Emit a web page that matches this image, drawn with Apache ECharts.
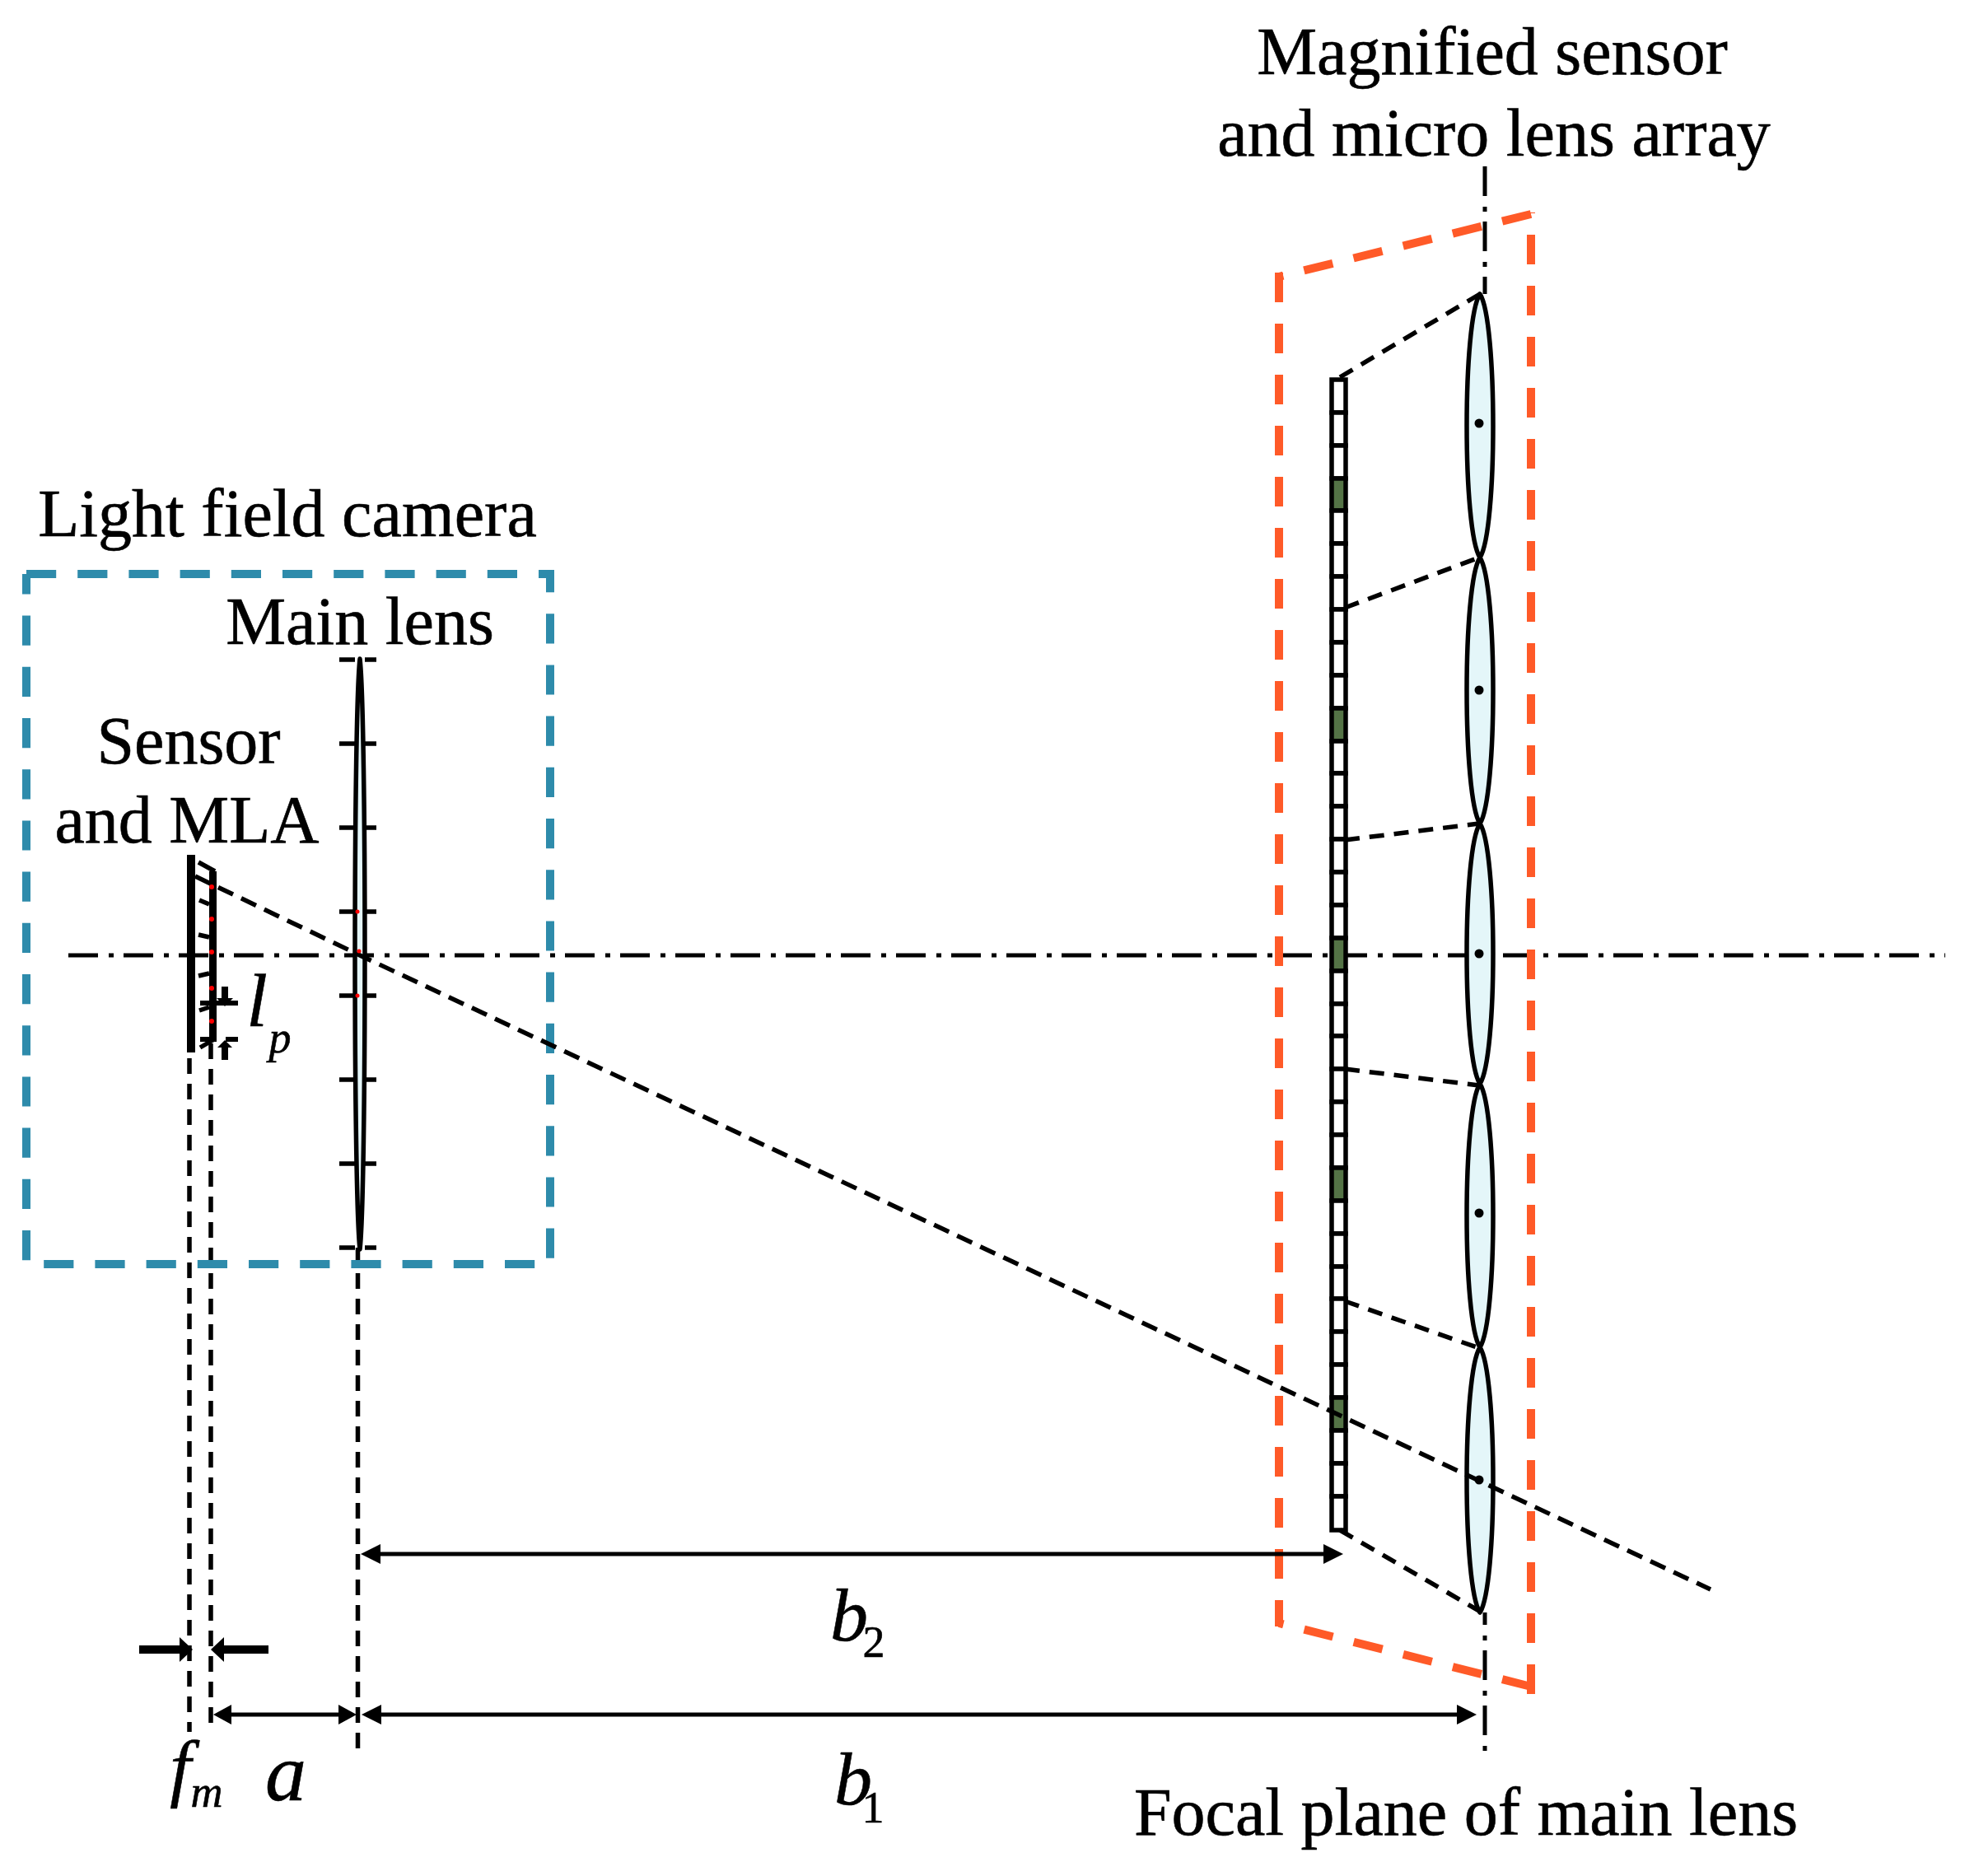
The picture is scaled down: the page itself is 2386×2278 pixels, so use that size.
<!DOCTYPE html>
<html>
<head>
<meta charset="utf-8">
<title>Light field camera</title>
<script src="https://cdn.jsdelivr.net/npm/echarts@6/dist/echarts.min.js"></script>
<style>
  html, body { margin: 0; padding: 0; background: #fff; }
  #chart { width: 2386px; height: 2278px; }
</style>
</head>
<body>
<div id="chart"></div>
<script>
'use strict';

const WIDTH = 2386;
const HEIGHT = 2278;
const SERIF = '"Liberation Serif", "Times New Roman", serif';
const BLACK = '#000000';
const BLUE = '#2e8bab';
const ORANGE = '#ff5a28';
const LENS_FILL = '#e4f6f9';
const PIXEL_GREEN = '#547346';
const DASH_DOT = [36, 13, 6, 12];
const BLUE_DASH = [36.2, 26];
const ORANGE_DASH = [36, 26];
const FINE_DASH = [19, 12];

// optical axis and focal plane
const opticalAxis = [[83, 1160], [2362, 1160]];
const focalPlaneTop = [[1803, 202], [1803, 357]];
const focalPlaneBottom = [[1803, 1958], [1803, 2126]];

// boxes, the orange one is four sides so each keeps its own dash start
const cameraBox = [[32, 697], [668, 697], [668, 1535], [32, 1535], [32, 697]];
const magnifiedBoxSides = [
  [[1553, 331], [1553, 1975]],
  [[1859, 2048], [1553, 1971]],
  [[1859, 2057], [1859, 258]],
  [[1859, 260], [1553, 336]]
];
const magnifiedBoxCorners = [[1553, 336], [1859, 2048]];

// [centre x, top y, bottom y, half width]
const mainLens = [[437, 800, 1517, 6]];
const microLenses = [
  [1797, 357, 677, 16],
  [1797, 677, 1000, 16],
  [1797, 1000, 1316, 16],
  [1797, 1316, 1636, 16],
  [1797, 1636, 1958, 16]
];
const microLensCentres = [[1796, 514], [1796, 838], [1796, 1158], [1796, 1473], [1796, 1797]];
const mainLensTickY = [801, 903, 1005, 1107, 1209, 1311, 1413, 1515];
const mainLensTickLeft = [412, 431];
const mainLensTickRight = [443, 457];

// magnified sensor
const sensorX = [1617, 1634];
const sensorEdges = [461, 501, 541, 581, 620, 660, 700, 740, 780, 820, 860, 900, 939, 979, 1019, 1059, 1099,
  1139, 1179, 1219, 1258, 1298, 1338, 1378, 1418, 1458, 1498, 1538, 1577, 1617, 1657, 1697, 1737, 1777, 1817, 1858];
const greenCells = [3, 10, 17, 24, 31];

// small sensor and micro lens array
const sensorBar = [[232, 1038], [232, 1278]];
const mlaBar = [[258.5, 1058], [258.5, 1265]];
const mlaRedDots = [[257, 1077], [257, 1116], [257, 1156], [257, 1200], [257, 1240]];
const mainLensRedDots = [[434, 1107], [434, 1209], [436, 1155]];
const mlaTicks = [
  [[241, 1047], [261, 1058]],
  [[242, 1093], [254, 1098]],
  [[241, 1135], [254, 1138]],
  [[241, 1185], [254, 1182]],
  [[242, 1227], [254, 1223]],
  [[243, 1272], [260, 1262]]
];

// dashed lines
const chiefRay = [[237, 1064], [437, 1160], [2077, 1930]];
const sensorToLens = [
  [[1627, 458], [1797, 357]],
  [[1633, 738], [1796, 677]],
  [[1633, 1020], [1796, 1000]],
  [[1633, 1298], [1796, 1318]],
  [[1633, 1580], [1796, 1637]],
  [[1627, 1858], [1796, 1956]]
];
const dropLines = [
  [[230, 1285], [230, 2103]],
  [[256, 1267], [256, 2096]],
  [[434.5, 1515], [434.5, 2126]]
];

// dimension lines, arrow heads are [tip x, tip y, direction x, direction y, length, half width]
const dimensionLines = [
  [[458, 1887], [1610, 1887]],
  [[458, 2082], [1773, 2082]],
  [[278, 2082], [414, 2082]]
];
const dimensionHeads = [
  [438, 1887, -1, 0, 24, 12],
  [1631, 1887, 1, 0, 24, 12],
  [439, 2082, -1, 0, 24, 12],
  [1793, 2082, 1, 0, 24, 12],
  [259, 2082, -1, 0, 22, 12],
  [433, 2082, 1, 0, 22, 12]
];
const fmLines = [[[169, 2003], [220, 2003]], [[270, 2003], [326, 2003]]];
const fmHeads = [[234, 2003, 1, 0, 16, 15], [256, 2003, -1, 0, 16, 15]];
const lpRules = [
  [[243, 1218], [289, 1218]],
  [[243, 1262], [260, 1262]],
  [[274, 1262], [289, 1262]]
];
const lpStubs = [
  [[273, 1198], [273, 1214]],
  [[273, 1271], [273, 1287]]
];
const lpHeads = [[273, 1222, 0, 1, 10, 10], [273, 1263, 0, -1, 9, 9]];

// texts, [x, y, text]
const captions = [
  [1812, 68, 'Magnified sensor'],
  [1814, 167, 'and micro lens array'],
  [349, 629, 'Light field camera'],
  [437, 760, 'Main lens'],
  [229, 905, 'Sensor'],
  [227, 1001, 'and MLA'],
  [1780, 2206, 'Focal plane of main lens']
];
const mathLabels = [
  [1031, 1968, 'b'],
  [1036, 2167, 'b'],
  [312, 1222, 'l'],
  [219, 2153, 'f']
];
const mathLabelsLarge = [
  [347, 2160, 'a']
];
const mathSubscripts = [
  [251, 2180, 'm'],
  [340, 1264, 'p']
];
const numberSubscripts = [
  [1061, 1998, '2'],
  [1060, 2199, '1']
];

function lineSeries(points, color, width, dash, z, offset) {
  return {
    type: 'line',
    data: points,
    showSymbol: false,
    clip: false,
    silent: true,
    animation: false,
    z: z,
    lineStyle: { color: color, width: width, type: dash || 'solid', dashOffset: offset || 0, cap: 'butt', join: 'miter' }
  };
}

function manyLines(list, color, width, dash, z) {
  return list.map(function(points) {
    return lineSeries(points, color, width, dash, z);
  });
}

function lensSeries(lenses, z) {
  return {
    type: 'custom',
    data: lenses,
    silent: true,
    animation: false,
    clip: false,
    z: z,
    renderItem: function(params, api) {
      const top = api.coord([api.value(0), api.value(1)]);
      const bottom = api.coord([api.value(0), api.value(2)]);
      const x = top[0];
      const bulge = api.value(3) * 4 / 3;
      const near = (bottom[1] - top[1]) * 0.1;
      const pathData = 'M' + x + ' ' + top[1]
        + 'C' + (x + bulge) + ' ' + (top[1] + near) + ' ' + (x + bulge) + ' ' + (bottom[1] - near) + ' ' + x + ' ' + bottom[1]
        + 'C' + (x - bulge) + ' ' + (bottom[1] - near) + ' ' + (x - bulge) + ' ' + (top[1] + near) + ' ' + x + ' ' + top[1] + 'Z';
      return {
        type: 'path',
        shape: { pathData: pathData },
        style: { fill: LENS_FILL, stroke: BLACK, lineWidth: 5.5, lineJoin: 'round' }
      };
    }
  };
}

function headSeries(heads, z) {
  return {
    type: 'custom',
    data: heads,
    silent: true,
    animation: false,
    clip: false,
    z: z,
    renderItem: function(params, api) {
      const tip = api.coord([api.value(0), api.value(1)]);
      const dx = api.value(2);
      const dy = api.value(3);
      const len = api.value(4);
      const half = api.value(5);
      const bx = tip[0] - dx * len;
      const by = tip[1] - dy * len;
      return {
        type: 'polygon',
        shape: { points: [tip, [bx - dy * half, by + dx * half], [bx + dy * half, by - dx * half]] },
        style: { fill: BLACK }
      };
    }
  };
}

function sensorSeries(z) {
  const cells = [];
  for (let i = 0; i < sensorEdges.length - 1; i++) {
    cells.push([sensorX[0], sensorEdges[i], sensorX[1], sensorEdges[i + 1], greenCells.indexOf(i) >= 0 ? 1 : 0]);
  }
  return {
    type: 'custom',
    data: cells,
    silent: true,
    animation: false,
    clip: false,
    z: z,
    renderItem: function(params, api) {
      const a = api.coord([api.value(0), api.value(1)]);
      const b = api.coord([api.value(2), api.value(3)]);
      return {
        type: 'rect',
        shape: { x: a[0], y: a[1], width: b[0] - a[0], height: b[1] - a[1] },
        style: { fill: api.value(4) ? PIXEL_GREEN : '#ffffff', stroke: BLACK, lineWidth: 5.5 }
      };
    }
  };
}

function dotSeries(points, color, size, z, shape) {
  return {
    type: 'scatter',
    data: points,
    symbol: shape || 'circle',
    symbolSize: size,
    silent: true,
    animation: false,
    clip: false,
    z: z,
    itemStyle: { color: color, opacity: 1 }
  };
}

function textSeries(items, size, style, z) {
  return {
    type: 'scatter',
    data: items.map(function(item) {
      return { value: [item[0], item[1]], name: item[2] };
    }),
    symbolSize: 1,
    silent: true,
    animation: false,
    clip: false,
    z: z,
    itemStyle: { color: 'transparent', opacity: 1 },
    label: {
      show: true,
      position: 'inside',
      formatter: '{b}',
      color: BLACK,
      textBorderColor: BLACK,
      textBorderWidth: 0.6,
      fontFamily: SERIF,
      fontSize: size,
      fontStyle: style
    }
  };
}

let series = [];
series.push(lineSeries(opticalAxis, BLACK, 5, DASH_DOT, 1));
series.push(lineSeries(focalPlaneTop, BLACK, 5, DASH_DOT, 1));
series.push(lineSeries(focalPlaneBottom, BLACK, 5, DASH_DOT, 1, 21));
series.push(lineSeries(cameraBox, BLUE, 10, BLUE_DASH, 2));
series = series.concat(manyLines(magnifiedBoxSides, ORANGE, 10, ORANGE_DASH, 2));
series.push(dotSeries(magnifiedBoxCorners, ORANGE, 10, 2, 'rect'));
mainLensTickY.forEach(function(y) {
  series.push(lineSeries([[mainLensTickLeft[0], y], [mainLensTickLeft[1], y]], BLACK, 5.5, null, 1));
  series.push(lineSeries([[mainLensTickRight[0], y], [mainLensTickRight[1], y]], BLACK, 5.5, null, 1));
});
series.push(lensSeries(mainLens, 3));
series.push(lensSeries(microLenses, 3));
series.push(dotSeries(microLensCentres, BLACK, 11, 4));
series.push(sensorSeries(3));
series.push(lineSeries(sensorBar, BLACK, 10, null, 4));
series.push(lineSeries(mlaBar, BLACK, 9, null, 4));
series = series.concat(manyLines(mlaTicks, BLACK, 5.5, null, 4));
series.push(dotSeries(mlaRedDots, '#ff0000', 6, 5));
series.push(dotSeries(mainLensRedDots, '#ff0000', 5, 5));
series.push(lineSeries(chiefRay, BLACK, 5.5, [20, 11], 5));
series = series.concat(manyLines(sensorToLens, BLACK, 5.5, [18, 12], 4));
series = series.concat(manyLines(dropLines, BLACK, 5.5, FINE_DASH, 1));
series = series.concat(manyLines(dimensionLines, BLACK, 5, null, 5));
series.push(headSeries(dimensionHeads, 5));
series = series.concat(manyLines(fmLines, BLACK, 10, null, 5));
series.push(headSeries(fmHeads, 5));
series = series.concat(manyLines(lpRules, BLACK, 6, null, 5));
series = series.concat(manyLines(lpStubs, BLACK, 8, null, 5));
series.push(headSeries(lpHeads, 5));
series.push(textSeries(captions, 82, 'normal', 6));
series.push(textSeries(mathLabels, 92, 'italic', 6));
series.push(textSeries(mathLabelsLarge, 100, 'italic', 6));
series.push(textSeries(mathSubscripts, 54, 'italic', 6));
series.push(textSeries(numberSubscripts, 54, 'normal', 6));

const chart = echarts.init(document.getElementById('chart'), null, { renderer: 'canvas' });
chart.setOption({
  animation: false,
  backgroundColor: '#ffffff',
  tooltip: { show: false },
  legend: { show: false },
  grid: { left: 0, right: 0, top: 0, bottom: 0 },
  xAxis: { type: 'value', min: 0, max: WIDTH, show: false },
  yAxis: { type: 'value', min: 0, max: HEIGHT, inverse: true, show: false },
  series: series
});
</script>
</body>
</html>
